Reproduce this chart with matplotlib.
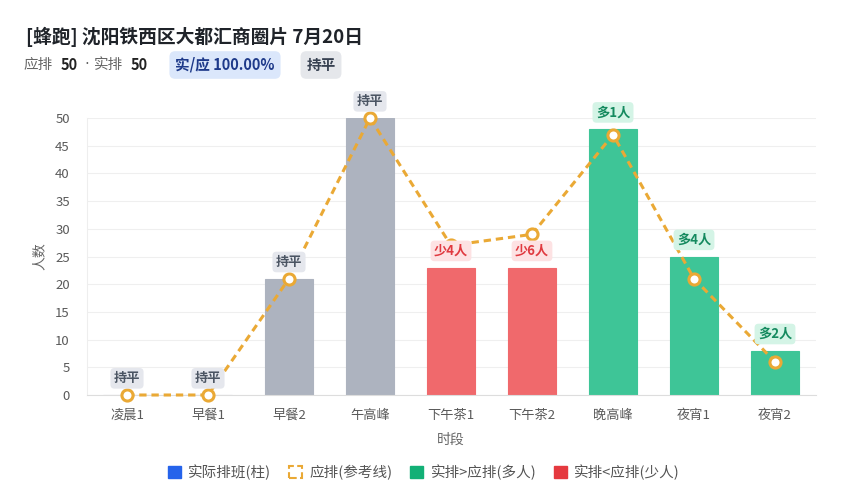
import matplotlib
matplotlib.use("Agg")
import matplotlib.pyplot as plt
from matplotlib.patches import Patch

plt.rcParams['font.family'] = ['Noto Sans CJK SC', 'DejaVu Sans']

categories = ["凌晨1", "早餐1", "早餐2", "午高峰", "下午茶1", "下午茶2", "晚高峰", "夜宵1", "夜宵2"]
actual = [0, 0, 21, 50, 23, 23, 48, 25, 8]
planned = [0, 0, 21, 50, 27, 29, 47, 21, 6]
diff_labels = ["持平", "持平", "持平", "持平", "少4人", "少6人", "多1人", "多4人", "多2人"]
y_ticks = [0, 5, 10, 15, 20, 25, 30, 35, 40, 45, 50]

title = "[蜂跑] 沈阳铁西区大都汇商圈片 7月20日"

GRAY_BAR = "#adb3bf"
RED_BAR = "#f0696c"
GREEN_BAR = "#3ec597"
ORANGE = "#eaa935"

W, H = 848, 500
fig = plt.figure(figsize=(W / 100, H / 100), dpi=100)

def fx(px):
    return px / W

def fy(py):
    return 1 - py / H

ax = fig.add_axes([fx(86.5), fy(395), fx(815.5) - fx(86.5), fy(118) - fy(395)])

x = list(range(len(categories)))
colors = []
for a, p in zip(actual, planned):
    if a > p:
        colors.append(GREEN_BAR)
    elif a < p:
        colors.append(RED_BAR)
    else:
        colors.append(GRAY_BAR)

ax.bar(x, actual, width=0.6, color=colors, edgecolor=colors, linewidth=0.8, zorder=2)

ax.plot(x, planned, linestyle=(0, (2.4, 1.6)), color=ORANGE, linewidth=2.2,
        marker="o", markersize=8, markerfacecolor="white", markeredgecolor=ORANGE,
        markeredgewidth=2.2, zorder=4, clip_on=False)

ax.set_xlim(-0.5, len(categories) - 0.5)
ax.set_ylim(0, 50)
ax.set_yticks(y_ticks)
ax.set_xticks(x)
ax.set_xticklabels(categories)
ax.tick_params(axis="both", length=0, colors="#5a5a5a", labelsize=9.5)
ax.tick_params(axis="x", pad=10)
ax.tick_params(axis="y", pad=12)
ax.grid(axis="y", color="#efefef", linewidth=0.8, zorder=0)
ax.set_axisbelow(True)
for s in ["top", "right"]:
    ax.spines[s].set_visible(False)
ax.spines["left"].set_color("#eeeeee")
ax.spines["bottom"].set_color("#dddddd")

ax.set_xlabel("时段", fontsize=10, color="#666666", labelpad=8)
ax.set_ylabel("人数", fontsize=10, color="#666666", labelpad=6)

for i, (a, lab) in enumerate(zip(actual, diff_labels)):
    if lab.startswith("多"):
        tc, bg = "#158a5f", "#d4f4e6"
    elif lab.startswith("少"):
        tc, bg = "#e03a40", "#fde2e3"
    else:
        tc, bg = "#4b5563", "#e5e7ed"
    ax.annotate(lab, (i, a), xytext=(0, 12), textcoords="offset points",
                ha="center", va="center", fontsize=9.5, fontweight="bold", color=tc,
                bbox=dict(boxstyle="round,pad=0.25,rounding_size=0.3", fc=bg, ec="none"),
                zorder=5, annotation_clip=False)

# title and subtitle
fig.text(fx(26), fy(37), title, fontsize=13.5, fontweight="bold", color="#1f2329",
         ha="left", va="center")
sub_y = fy(65)
fs = 10.5
fig.text(fx(24), sub_y, "应排", fontsize=fs, color="#666666", ha="left", va="center")
fig.text(fx(61), sub_y, "50", fontsize=fs, fontweight="bold", color="#222222", ha="left", va="center")
fig.text(fx(87), sub_y, "·", fontsize=fs, color="#666666", ha="center", va="center",
         family="DejaVu Sans")
fig.text(fx(94), sub_y, "实排", fontsize=fs, color="#666666", ha="left", va="center")
fig.text(fx(131), sub_y, "50", fontsize=fs, fontweight="bold", color="#222222", ha="left", va="center")
fig.text(fx(225), sub_y, "实/应 100.00%", fontsize=fs, fontweight="bold", color="#1e3a8a",
         ha="center", va="center",
         bbox=dict(boxstyle="round,pad=0.4,rounding_size=0.4", fc="#dbe7fb", ec="none"))
fig.text(fx(321), sub_y, "持平", fontsize=fs, fontweight="bold", color="#374151",
         ha="center", va="center",
         bbox=dict(boxstyle="round,pad=0.4,rounding_size=0.4", fc="#e5e7eb", ec="none"))

handles = [
    Patch(facecolor="#2563eb", edgecolor="#2563eb"),
    Patch(facecolor="white", edgecolor=ORANGE, linestyle="--", linewidth=1.5),
    Patch(facecolor="#12b076", edgecolor="#12b076"),
    Patch(facecolor="#e5393f", edgecolor="#e5393f"),
]
labels = ["实际排班(柱)", "应排(参考线)", "实排>应排(多人)", "实排<应排(少人)"]
leg = fig.legend(handles, labels, loc="center", bbox_to_anchor=(fx(424), fy(472)),
                 ncol=4, frameon=False, fontsize=10.5, handlelength=0.9, handleheight=0.9,
                 handletextpad=0.5, columnspacing=1.2)
for t in leg.get_texts():
    t.set_color("#555555")

fig.savefig("out.png", dpi=100, facecolor="white")
